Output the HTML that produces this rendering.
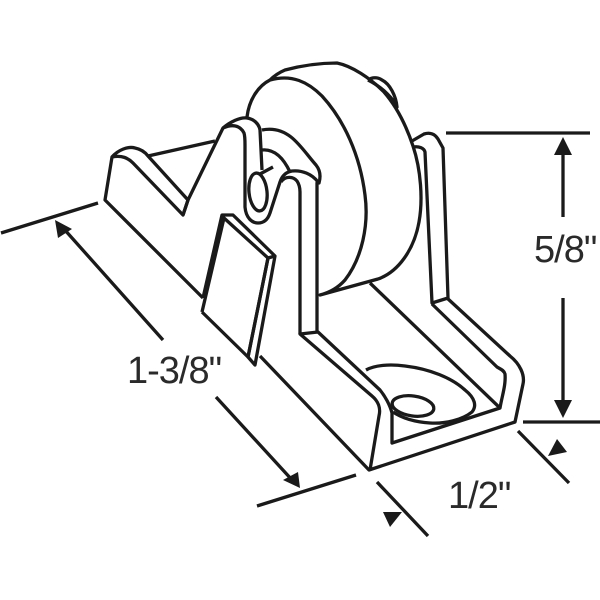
<!DOCTYPE html>
<html><head><meta charset="utf-8"><style>html,body{margin:0;padding:0;background:#fff}svg{display:block}text{font-family:"Liberation Sans",sans-serif;font-size:38px;letter-spacing:-1px;fill:#2a2a2a}</style></head><body>
<svg width="600" height="600" viewBox="0 0 600 600" xmlns="http://www.w3.org/2000/svg">
<g fill="none" stroke="#1a1a1a" stroke-width="3.3" stroke-linejoin="round" stroke-linecap="butt">
<!-- plate -->
<path d="M203 298L105 200L112 157C118 150 128 146 135 148C140 149 145 152 148 156L188 200L183 215L133 163C128 158 122 155 112 157"/>
<path d="M183 215L188 200L223 128C230 122 240 117 247 118C254 119 259 124 260 130L262 170"/>
<path d="M148 156L215 141"/>
<path d="M223 128C232 124 240 125 244 133C245 136 245 140 245 145L245 207C246 218 252 223 258 223C264 223 268 219 270 213L280 182C282 176 286 172 292 171C302 170 312 174 318 182"/>
<path d="M281 182C285 176 293 176 297 181C299 184 300 188 300 192L300 334"/>
<ellipse cx="258" cy="192" rx="9" ry="19" transform="rotate(-6 258 192)"/>
<path d="M260 174L273 167"/>
<!-- hub -->
<path d="M262 130C272 128 282 130 291 137C300 144 308 156 316 165C320 170 321 176 319 183L317 183L317 331"/>
<path d="M262 150C272 149 282 155 290 172"/>
<!-- wheel -->
<path d="M247 117C249 100 258 86 270 80C292 74 308 82 322 96C344 120 360 155 365 195C369 225 362 258 345 280C337 289 328 293 320 295L378 279C398 272 414 250 419 222C423 200 421 170 413 146C406 125 397 107 384 92C370 78 352 66 337 63C318 63 300 66 285 70C278 73 274 76 270 80"/>
<path d="M368 80C372 77 378 77 382 80C390 84 396 96 397 107C394 100 384 88 368 80"/>
<!-- right post -->
<path d="M412 141L424 134C430 132 435 134 438 139L443 148L448 298L432 303L425 152C424 148 419 146 413 147"/>
<!-- channel -->
<path d="M202 312L248 357M260 356L369 470L515 422L523 384C525 375 520 364 510 356L447 298"/>
<path d="M432 304L497 367C500 369 504 370 505 374C506 385 502 396 500 408L392 443L392 413C390 405 385 396 380 390L318 332L300 334L372 396C378 401 381 408 379 416L370 470"/>
<path d="M370 283L500 408"/>
<path d="M366 370C375 365 390 364 405 366C430 369 452 378 465 390C475 398 477 406 472 412C462 420 445 424 430 423C415 422 402 418 393 412"/>
<ellipse cx="413" cy="406" rx="21" ry="10" transform="rotate(8 413 406)"/>
<!-- tab -->
<path d="M203 298L222 215L233 215L275 256L255 365L248 357L268 258L224 218L202 312" />
<path d="M268 258L275 256M248 357L268 258"/>
<!-- dims -->
<path d="M1 233L98 203M64 229L163 340M216 397L293 481M257 506L356 475"/>
<path d="M446 133L590 133M563 150L563 217M563 298L563 405M523 422L600 422"/>
<path d="M518 431L569 483M377 482L428 536"/>
</g>
<g fill="#1a1a1a">
<path d="M55 220L72 229L58 238Z"/>
<path d="M300 488L298 472L283 480Z"/>
<path d="M563 137L554 155L572 155Z"/>
<path d="M563 418L554 400L572 400Z"/>
<path d="M557 439L567 452L548 456Z"/>
<path d="M383 512L402 512L390 527Z"/>
</g>
<text x="127" y="383">1-3/8"</text>
<text x="534" y="262">5/8"</text>
<text x="448" y="508">1/2"</text>
</svg>
</body></html>
